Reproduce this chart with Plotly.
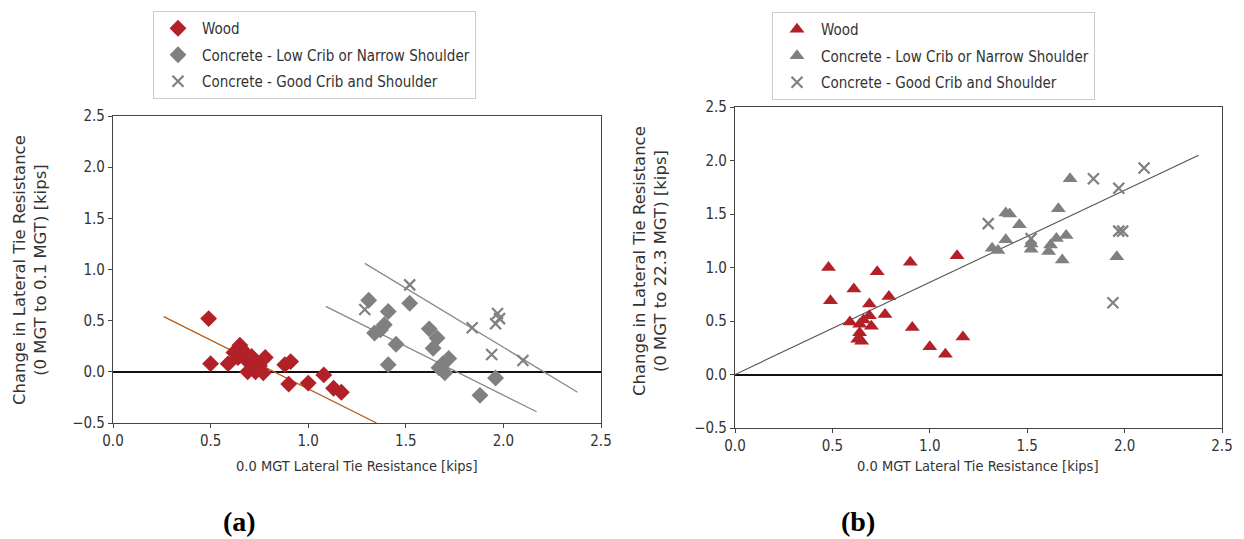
import plotly.graph_objects as go

# ---------------- data: panel (a) ----------------
wood_a_x = [0.49, 0.50, 0.59, 0.62, 0.64, 0.65, 0.66, 0.67, 0.68, 0.69, 0.71, 0.72, 0.73,
            0.75, 0.78, 0.77, 0.88, 0.91, 0.90, 1.00, 1.08, 1.13, 1.17]
wood_a_y = [0.52, 0.08, 0.08, 0.19, 0.14, 0.26, 0.22, 0.18, 0.12, 0.00, 0.15, 0.09, 0.00,
            0.06, 0.14, -0.01, 0.07, 0.10, -0.12, -0.11, -0.03, -0.16, -0.20]
low_a_x = [1.31, 1.41, 1.52, 1.39, 1.37, 1.34, 1.45, 1.41, 1.62, 1.66, 1.64, 1.72, 1.69,
           1.67, 1.70, 1.96, 1.88]
low_a_y = [0.70, 0.59, 0.67, 0.46, 0.41, 0.38, 0.27, 0.07, 0.42, 0.33, 0.23, 0.13, 0.08,
           0.04, -0.01, -0.06, -0.23]
good_a_x = [1.29, 1.52, 1.84, 1.97, 1.98, 1.96, 1.94, 2.10]
good_a_y = [0.61, 0.85, 0.43, 0.57, 0.52, 0.47, 0.17, 0.11]
fit_a_wood_x = [0.26, 1.35]
fit_a_wood_y = [0.54, -0.50]
fit_a_low_x = [1.09, 2.17]
fit_a_low_y = [0.64, -0.39]
fit_a_good_x = [1.29, 2.38]
fit_a_good_y = [1.06, -0.20]

# ---------------- data: panel (b) ----------------
wood_b_x = [0.48, 0.49, 0.61, 0.73, 0.90, 1.14, 0.79, 0.69, 0.69, 0.77, 0.59, 0.64, 0.66,
            0.70, 0.64, 0.63, 0.65, 0.91, 1.00, 1.08, 1.17]
wood_b_y = [1.00, 0.69, 0.80, 0.96, 1.05, 1.11, 0.73, 0.66, 0.55, 0.56, 0.49, 0.47, 0.51,
            0.45, 0.39, 0.33, 0.31, 0.44, 0.26, 0.19, 0.35]
low_b_x = [1.72, 1.39, 1.41, 1.46, 1.66, 1.39, 1.32, 1.35, 1.52, 1.52, 1.62, 1.61, 1.65,
           1.70, 1.68, 1.96]
low_b_y = [1.83, 1.51, 1.50, 1.40, 1.55, 1.26, 1.18, 1.16, 1.22, 1.17, 1.21, 1.15, 1.27,
           1.30, 1.07, 1.10]
good_b_x = [1.30, 1.84, 1.97, 2.10, 1.97, 1.99, 1.94, 1.52]
good_b_y = [1.41, 1.83, 1.74, 1.93, 1.34, 1.34, 0.67, 1.27]
fit_b_x = [0.0, 2.38]
fit_b_y = [0.0, 2.05]

tick_vals = [-0.5, 0.0, 0.5, 1.0, 1.5, 2.0, 2.5]
names = ["Wood", "Concrete - Low Crib or Narrow Shoulder", "Concrete - Good Crib and Shoulder"]

RED = "#b22028"
GRAY = "#808080"
FONT_C = "DejaVu Sans Condensed, DejaVu Sans, sans-serif"
FONT_N = "DejaVu Sans, sans-serif"
TXT = "#333333"

fig = go.Figure()

# fit lines (a)
fig.add_trace(go.Scatter(x=fit_a_wood_x, y=fit_a_wood_y, mode="lines", xaxis="x", yaxis="y",
                         line=dict(color="#b0601e", width=1.3), showlegend=False, hoverinfo="skip"))
fig.add_trace(go.Scatter(x=fit_a_low_x, y=fit_a_low_y, mode="lines", xaxis="x", yaxis="y",
                         line=dict(color="#8a8a8a", width=1.3), showlegend=False, hoverinfo="skip"))
fig.add_trace(go.Scatter(x=fit_a_good_x, y=fit_a_good_y, mode="lines", xaxis="x", yaxis="y",
                         line=dict(color="#8a8a8a", width=1.3), showlegend=False, hoverinfo="skip"))
# fit line (b)
fig.add_trace(go.Scatter(x=fit_b_x, y=fit_b_y, mode="lines", xaxis="x2", yaxis="y2",
                         line=dict(color="#555555", width=1.1), showlegend=False, hoverinfo="skip"))

# scatter (a)
fig.add_trace(go.Scatter(x=wood_a_x, y=wood_a_y, mode="markers", name=names[0], xaxis="x", yaxis="y",
                         legend="legend", legendgroup="a1",
                         marker=dict(symbol="diamond", size=13, color=RED)))
fig.add_trace(go.Scatter(x=low_a_x, y=low_a_y, mode="markers", name=names[1], xaxis="x", yaxis="y",
                         legend="legend", legendgroup="a2",
                         marker=dict(symbol="diamond", size=13, color=GRAY)))
fig.add_trace(go.Scatter(x=good_a_x, y=good_a_y, mode="markers", name=names[2], xaxis="x", yaxis="y",
                         legend="legend", legendgroup="a3",
                         marker=dict(symbol="x-thin", size=11, color=GRAY, line=dict(color=GRAY, width=2.2))))

# scatter (b)
fig.add_trace(go.Scatter(x=wood_b_x, y=wood_b_y, mode="markers", name=names[0], xaxis="x2", yaxis="y2",
                         legend="legend2", legendgroup="b1",
                         marker=dict(symbol="triangle-up", size=13, color=RED)))
fig.add_trace(go.Scatter(x=low_b_x, y=low_b_y, mode="markers", name=names[1], xaxis="x2", yaxis="y2",
                         legend="legend2", legendgroup="b2",
                         marker=dict(symbol="triangle-up", size=13, color=GRAY)))
fig.add_trace(go.Scatter(x=good_b_x, y=good_b_y, mode="markers", name=names[2], xaxis="x2", yaxis="y2",
                         legend="legend2", legendgroup="b3",
                         marker=dict(symbol="x-thin", size=11, color=GRAY, line=dict(color=GRAY, width=2.2))))

W, H = 1244, 539

def px_x(p):
    return p / W

def px_y(p):
    return 1 - p / H

axis_common = dict(
    range=[0, 2.5], tickvals=tick_vals, tickformat=".1f", showline=True, mirror=True,
    linecolor="#444444", linewidth=1.2, ticks="outside", ticklen=4, tickcolor="#444444",
    showgrid=False, zeroline=False, automargin=False,
    tickfont=dict(family=FONT_C, size=15, color=TXT),
)
yaxis_common = dict(
    range=[-0.5, 2.5], tickvals=tick_vals, tickformat=".1f", showline=True, mirror=True,
    linecolor="#444444", linewidth=1.2, ticks="outside", ticklen=4, tickcolor="#444444",
    showgrid=False, zeroline=True, zerolinecolor="#111111", zerolinewidth=1.5, automargin=False,
    tickfont=dict(family=FONT_C, size=15, color=TXT),
)

legend_common = dict(
    xanchor="left", yanchor="top", bgcolor="white", bordercolor="#cccccc", borderwidth=1,
    font=dict(family=FONT_C, size=15, color=TXT), traceorder="grouped", tracegroupgap=4,
    itemwidth=38,
)

fig.update_layout(
    width=W, height=H, margin=dict(l=0, r=0, t=0, b=0),
    paper_bgcolor="white", plot_bgcolor="white",
    xaxis=dict(domain=[px_x(113), px_x(601)], anchor="y", **axis_common),
    yaxis=dict(domain=[px_y(423), px_y(116)], anchor="x", **yaxis_common),
    xaxis2=dict(domain=[px_x(735), px_x(1222)], anchor="y2", **axis_common),
    yaxis2=dict(domain=[px_y(428), px_y(107)], anchor="x2", **yaxis_common),
    legend=dict(x=px_x(153), y=px_y(11), **legend_common),
    legend2=dict(x=px_x(772), y=px_y(12), **legend_common),
)

ann = []
ann.append(dict(text="0.0 MGT Lateral Tie Resistance [kips]", x=px_x(357), y=px_y(466),
                xref="paper", yref="paper", showarrow=False, xanchor="center", yanchor="middle",
                font=dict(family=FONT_C, size=14.5, color=TXT)))
ann.append(dict(text="0.0 MGT Lateral Tie Resistance [kips]", x=px_x(978), y=px_y(466),
                xref="paper", yref="paper", showarrow=False, xanchor="center", yanchor="middle",
                font=dict(family=FONT_C, size=14.5, color=TXT)))
ann.append(dict(text="Change in Lateral Tie Resistance<br>(0 MGT to 0.1 MGT) [kips]", x=px_x(30), y=px_y(270),
                xref="paper", yref="paper", showarrow=False, xanchor="center", yanchor="middle",
                textangle=-90, font=dict(family=FONT_N, size=16.5, color=TXT)))
ann.append(dict(text="Change in Lateral Tie Resistance<br>(0 MGT to 22.3 MGT) [kips]", x=px_x(650), y=px_y(261),
                xref="paper", yref="paper", showarrow=False, xanchor="center", yanchor="middle",
                textangle=-90, font=dict(family=FONT_N, size=16.5, color=TXT)))
ann.append(dict(text="<b>(a)</b>", x=px_x(240), y=px_y(521), xref="paper", yref="paper", showarrow=False,
                xanchor="center", yanchor="middle",
                font=dict(family="Liberation Serif, serif", size=28, color="black")))
ann.append(dict(text="<b>(b)</b>", x=px_x(858), y=px_y(521), xref="paper", yref="paper", showarrow=False,
                xanchor="center", yanchor="middle",
                font=dict(family="Liberation Serif, serif", size=28, color="black")))
fig.update_layout(annotations=ann)

fig.write_html("out.html", config={"displayModeBar": False},
               post_script="document.body.style.margin='0px';")
